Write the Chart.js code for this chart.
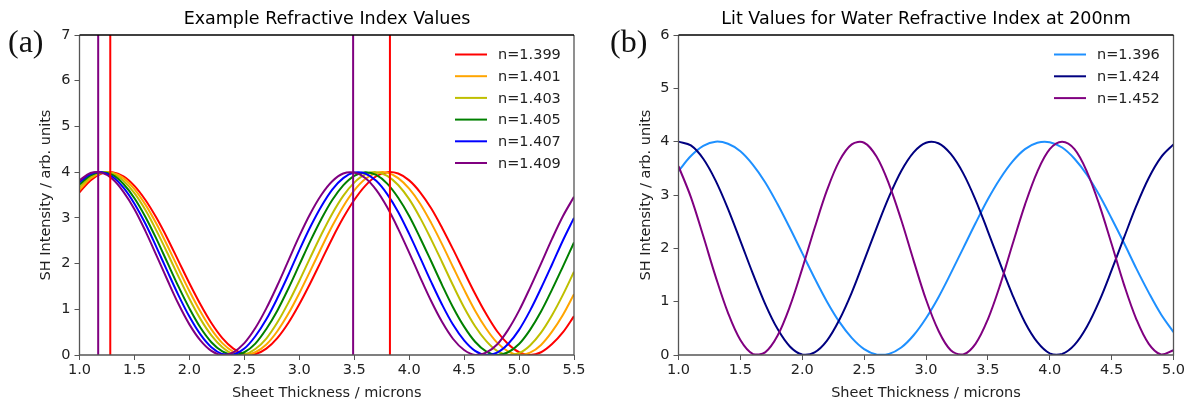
<!DOCTYPE html>
<html>
<head>
<meta charset="utf-8">
<script src="https://cdn.jsdelivr.net/npm/chart.js@4.4.1/dist/chart.umd.min.js"></script>
<style>
  html, body { margin: 0; padding: 0; background: #fff; }
  #wrap { position: relative; width: 1188px; height: 402px; overflow: hidden; font-family: 'DejaVu Sans', sans-serif; }
  canvas { position: absolute; top: 0; }
  #chartA { left: 0; }
  #chartB { left: 594px; }
  .title { position: absolute; top: 8px; width: 600px; text-align: center; font-size: 17.5px; line-height: 20px; color: #000; white-space: nowrap; }
  .tag { position: absolute; top: 25px; font-family: 'Liberation Serif', serif; font-size: 32px; line-height: 32px; color: #111; }
</style>
</head>
<body>
<div id="wrap">
  <canvas id="chartA" width="594" height="402"></canvas>
  <canvas id="chartB" width="594" height="402"></canvas>
  <div class="title" style="left:27px">Example Refractive Index Values</div>
  <div class="title" style="left:626px">Lit Values for Water Refractive Index at 200nm</div>
  <div class="tag" style="left:8px">(a)</div>
  <div class="tag" style="left:610px">(b)</div>
</div>
<script>
// panel (a): sheet thickness (microns) and SH intensity
const thicknessA = [1.0, 1.1, 1.2, 1.3, 1.4, 1.5, 1.6, 1.7, 1.8, 1.9,
  2.0, 2.1, 2.2, 2.3, 2.4, 2.5, 2.6, 2.7, 2.8, 2.9,
  3.0, 3.1, 3.2, 3.3, 3.4, 3.5, 3.6, 3.7, 3.8, 3.9,
  4.0, 4.1, 4.2, 4.3, 4.4, 4.5, 4.6, 4.7, 4.8, 4.9,
  5.0, 5.1, 5.2, 5.3, 5.4, 5.5];
const labelsA = ['n=1.399', 'n=1.401', 'n=1.403', 'n=1.405', 'n=1.407', 'n=1.409'];
const n1399 = [3.56, 3.82, 3.97, 4.00, 3.91, 3.70, 3.39, 3.00, 2.55, 2.06,
  1.57, 1.11, 0.70, 0.37, 0.14, 0.02, 0.02, 0.14, 0.37, 0.70,
  1.11, 1.57, 2.06, 2.55, 3.00, 3.39, 3.70, 3.91, 4.00, 3.97,
  3.82, 3.56, 3.21, 2.78, 2.31, 1.82, 1.34, 0.90, 0.52, 0.24,
  0.06, 0.00, 0.06, 0.24, 0.50, 0.85];
const n1401 = [3.61, 3.86, 3.98, 3.99, 3.87, 3.63, 3.29, 2.87, 2.39, 1.89,
  1.40, 0.95, 0.56, 0.26, 0.07, 0.00, 0.06, 0.23, 0.52, 0.90,
  1.35, 1.84, 2.34, 2.82, 3.25, 3.60, 3.85, 3.98, 3.99, 3.87,
  3.64, 3.31, 2.89, 2.42, 1.92, 1.43, 0.97, 0.58, 0.27, 0.08,
  0.00, 0.05, 0.22, 0.51, 0.88, 1.33];
const n1403 = [3.67, 3.89, 3.99, 3.97, 3.81, 3.54, 3.17, 2.72, 2.23, 1.72,
  1.23, 0.79, 0.43, 0.17, 0.02, 0.01, 0.13, 0.36, 0.71, 1.14,
  1.62, 2.13, 2.63, 3.09, 3.48, 3.77, 3.95, 4.00, 3.92, 3.72,
  3.41, 3.00, 2.53, 2.03, 1.52, 1.04, 0.63, 0.31, 0.09, 0.00,
  0.04, 0.21, 0.49, 0.87, 1.32, 1.82];
const n1405 = [3.73, 3.93, 4.00, 3.94, 3.74, 3.43, 3.02, 2.54, 2.02, 1.50,
  1.02, 0.60, 0.28, 0.08, 0.00, 0.06, 0.25, 0.57, 0.97, 1.45,
  1.97, 2.49, 2.97, 3.39, 3.71, 3.92, 4.00, 3.94, 3.75, 3.44,
  3.04, 2.56, 2.05, 1.53, 1.04, 0.62, 0.29, 0.08, 0.00, 0.06,
  0.24, 0.55, 0.95, 1.43, 1.94, 2.46];
const n1407 = [3.78, 3.96, 4.00, 3.90, 3.66, 3.31, 2.87, 2.36, 1.83, 1.31,
  0.84, 0.45, 0.17, 0.02, 0.01, 0.14, 0.41, 0.78, 1.24, 1.75,
  2.29, 2.80, 3.25, 3.62, 3.87, 3.99, 3.97, 3.81, 3.52, 3.13,
  2.65, 2.13, 1.60, 1.10, 0.66, 0.32, 0.09, 0.00, 0.05, 0.24,
  0.55, 0.97, 1.46, 1.98, 2.51, 3.00];
const n1409 = [3.82, 3.98, 3.99, 3.85, 3.57, 3.19, 2.71, 2.18, 1.64, 1.12,
  0.67, 0.32, 0.09, 0.00, 0.06, 0.26, 0.59, 1.02, 1.52, 2.06,
  2.60, 3.09, 3.50, 3.80, 3.97, 3.99, 3.87, 3.61, 3.23, 2.76,
  2.24, 1.70, 1.18, 0.72, 0.35, 0.11, 0.00, 0.05, 0.23, 0.55,
  0.97, 1.47, 2.00, 2.54, 3.04, 3.46];
// vertical markers at the intensity peaks of the outer two curves
const peaks1409 = [1.17, 3.49];
const peaks1399 = [1.28, 3.825];
const xTicksA = [1.0, 5.5];
const yTicksA = [0, 7];

// panel (b): literature values
const thicknessB = [1.0, 1.1, 1.2, 1.3, 1.4, 1.5, 1.6, 1.7, 1.8, 1.9,
  2.0, 2.1, 2.2, 2.3, 2.4, 2.5, 2.6, 2.7, 2.8, 2.9,
  3.0, 3.1, 3.2, 3.3, 3.4, 3.5, 3.6, 3.7, 3.8, 3.9,
  4.0, 4.1, 4.2, 4.3, 4.4, 4.5, 4.6, 4.7, 4.8, 4.9, 5.0];
const labelsB = ['n=1.396', 'n=1.424', 'n=1.452'];
const n1396 = [3.45, 3.73, 3.92, 4.00, 3.96, 3.82, 3.57, 3.24, 2.83, 2.38,
  1.91, 1.44, 1.00, 0.62, 0.32, 0.11, 0.01, 0.02, 0.14, 0.37,
  0.69, 1.08, 1.53, 2.00, 2.47, 2.92, 3.31, 3.63, 3.86, 3.98,
  3.99, 3.89, 3.68, 3.38, 3.00, 2.56, 2.10, 1.62, 1.17, 0.76, 0.43];
const n1424 = [4.00, 3.93, 3.68, 3.27, 2.74, 2.14, 1.53, 0.96, 0.49, 0.16,
  0.01, 0.05, 0.27, 0.66, 1.17, 1.77, 2.38, 2.96, 3.45, 3.80,
  3.98, 3.97, 3.77, 3.41, 2.91, 2.32, 1.71, 1.12, 0.61, 0.24,
  0.03, 0.02, 0.19, 0.53, 1.01, 1.59, 2.20, 2.80, 3.32, 3.71, 3.95];
const n1452 = [3.54, 2.96, 2.23, 1.47, 0.79, 0.28, 0.02, 0.05, 0.36, 0.91,
  1.62, 2.38, 3.09, 3.64, 3.95, 3.98, 3.72, 3.21, 2.53, 1.77,
  1.04, 0.46, 0.09, 0.01, 0.21, 0.67, 1.32, 2.08, 2.82, 3.44,
  3.86, 4.00, 3.86, 3.44, 2.82, 2.08, 1.32, 0.67, 0.21, 0.01, 0.09];
const xTicksB = [1.0, 5.0];
const yTicksB = [0, 6];

Chart.defaults.font.family = "'DejaVu Sans', sans-serif";
Chart.defaults.color = '#222';

const pairs = (xs, ys) => xs.map((x, i) => ({ x: x, y: ys[i] }));

const framePlugin = {
  id: 'frame',
  afterDatasetsDraw(chart) {
    const { ctx, chartArea: a } = chart;
    ctx.save();
    ctx.lineWidth = 1.3;
    ctx.strokeStyle = '#555';
    ctx.beginPath();
    ctx.moveTo(a.left, a.top);
    ctx.lineTo(a.left, a.bottom);
    ctx.lineTo(a.right, a.bottom);
    ctx.lineTo(a.right, a.top);
    ctx.stroke();
    ctx.strokeStyle = '#000';
    ctx.beginPath();
    ctx.moveTo(a.left, a.top);
    ctx.lineTo(a.right, a.top);
    ctx.stroke();
    ctx.restore();
  }
};

// legend drawn inside the plot, upper right, like the original
const innerLegend = {
  id: 'innerLegend',
  afterDraw(chart, args, opts) {
    const { ctx } = chart;
    const items = chart.data.datasets.filter(d => d.inLegend);
    ctx.save();
    ctx.font = "14.5px 'DejaVu Sans', sans-serif";
    ctx.textBaseline = 'middle';
    ctx.fillStyle = '#222';
    items.forEach((d, i) => {
      const y = opts.y0 + i * opts.dy;
      ctx.strokeStyle = d.borderColor;
      ctx.lineWidth = 2;
      ctx.beginPath();
      ctx.moveTo(opts.x1, y);
      ctx.lineTo(opts.x2, y);
      ctx.stroke();
      ctx.fillText(d.label, opts.tx, y + 1);
    });
    ctx.restore();
  }
};

const curve = (label, xs, ys, colour, order) => ({
  label: label,
  data: pairs(xs, ys),
  borderColor: colour,
  borderWidth: 2,
  pointRadius: 0,
  tension: 0.35,
  fill: false,
  inLegend: true,
  order: order
});

const marker = (x, yMax, colour) => ({
  data: [{ x: x, y: 0 }, { x: x, y: yMax }],
  borderColor: colour,
  borderWidth: 2,
  pointRadius: 0,
  fill: false,
  order: -1
});

const axes = (xr, yr, yWidth) => ({
  x: {
    type: 'linear',
    min: xr[0], max: xr[1],
    afterFit: s => { s.height = 47; },
    ticks: { stepSize: 0.5, font: { size: 14.5 }, padding: 2, maxRotation: 0,
      callback: v => Number(v).toFixed(1) },
    grid: { drawOnChartArea: false, drawTicks: true, tickLength: 5, color: '#555' },
    border: { display: false },
    title: { display: true, text: 'Sheet Thickness / microns', font: { size: 14.5 },
      color: '#222', padding: { top: 0, bottom: 0 } }
  },
  y: {
    type: 'linear',
    min: yr[0], max: yr[1],
    afterFit: s => { s.width = yWidth; },
    ticks: { stepSize: 1, font: { size: 14.5 }, padding: 4 },
    grid: { drawOnChartArea: false, drawTicks: true, tickLength: 5, color: '#555' },
    border: { display: false },
    title: { display: true, text: 'SH Intensity / arb. units', font: { size: 14.5 },
      color: '#222', padding: { top: 0, bottom: 0 } }
  }
});

const coloursA = ['#ff0000', '#ffa500', '#bfbf00', '#008000', '#0000ff', '#800080'];
const seriesA = [n1399, n1401, n1403, n1405, n1407, n1409];
const datasetsA = seriesA.map((ys, i) =>
  curve(labelsA[i], thicknessA, ys, coloursA[i], seriesA.length - i));
peaks1409.forEach(x => datasetsA.push(marker(x, yTicksA[1], '#800080')));
peaks1399.forEach(x => datasetsA.push(marker(x, yTicksA[1], '#ff0000')));

new Chart(document.getElementById('chartA'), {
  type: 'line',
  data: { datasets: datasetsA },
  options: {
    responsive: false,
    animation: false,
    devicePixelRatio: 1,
    layout: { padding: { left: 38, right: 20, top: 35, bottom: 0 } },
    scales: axes(xTicksA, yTicksA, 41.5),
    plugins: {
      legend: { display: false },
      tooltip: { enabled: false },
      innerLegend: { x1: 455, x2: 487, tx: 498, y0: 54.5, dy: 21.7 }
    }
  },
  plugins: [framePlugin, innerLegend]
});

const coloursB = ['#1e90ff', '#000080', '#800080'];
const seriesB = [n1396, n1424, n1452];
const datasetsB = seriesB.map((ys, i) =>
  curve(labelsB[i], thicknessB, ys, coloursB[i], seriesB.length - i));

new Chart(document.getElementById('chartB'), {
  type: 'line',
  data: { datasets: datasetsB },
  options: {
    responsive: false,
    animation: false,
    devicePixelRatio: 1,
    layout: { padding: { left: 44, right: 14.5, top: 35, bottom: 0 } },
    scales: axes(xTicksB, yTicksB, 40.5),
    plugins: {
      legend: { display: false },
      tooltip: { enabled: false },
      innerLegend: { x1: 460, x2: 492, tx: 503, y0: 54.5, dy: 21.8 }
    }
  },
  plugins: [framePlugin, innerLegend]
});
</script>
</body>
</html>
